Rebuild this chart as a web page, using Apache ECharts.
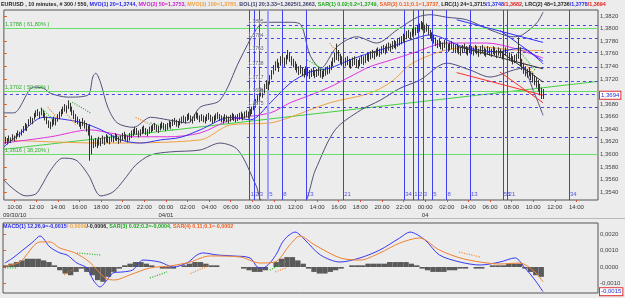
<!DOCTYPE html>
<html>
<head>
<meta charset="utf-8">
<script src="https://cdn.jsdelivr.net/npm/echarts@6/dist/echarts.min.js"></script>
<style>
  html, body { margin: 0; padding: 0; background: #ececec; }
  #chart { width: 625px; height: 298px; }
</style>
</head>
<body>
<div id="chart"></div>
<script>
// 10-minute EURUSD bars, in pips above 1.3 (3662 -> 1.3662)
const barHigh = [
  3628,3626,3630,3627,3632,3630,3634,3638,3636,3640, 3645,3650,3648,3656,3660,3658,3666,3670,3672,3668,
  3674,3670,3666,3660,3654,3652,3656,3660,3658,3664, 3668,3672,3676,3680,3678,3686,3682,3676,3670,3664,
  3660,3656,3652,3658,3654,3650,3646,3648,3630,3624, 3626,3624,3628,3626,3630,3628,3632,3630,3628,3632,
  3630,3634,3632,3628,3630,3634,3636,3632,3630,3634, 3638,3640,3644,3642,3638,3640,3644,3646,3642,3640,
  3644,3646,3648,3650,3647,3645,3649,3652,3650,3648, 3650,3654,3652,3656,3658,3655,3653,3657,3660,3662,
  3660,3664,3666,3662,3660,3664,3668,3666,3662,3664, 3662,3660,3664,3666,3663,3660,3662,3665,3667,3664,
  3662,3660,3664,3662,3660,3663,3666,3664,3662,3664, 3666,3668,3665,3668,3670,3668,3672,3676,3682,3688,
  3694,3700,3706,3704,3712,3718,3716,3726,3734,3742, 3748,3752,3746,3756,3760,3754,3758,3766,3762,3756,
  3752,3748,3744,3740,3742,3738,3736,3740,3738,3734, 3736,3738,3734,3736,3738,3735,3733,3736,3738,3740,
  3742,3748,3754,3762,3776,3766,3760,3756,3752,3754, 3756,3752,3750,3754,3756,3752,3750,3754,3758,3756,
  3758,3762,3760,3764,3766,3764,3768,3770,3768,3772, 3774,3772,3776,3778,3776,3780,3782,3780,3784,3786,
  3788,3792,3790,3796,3798,3795,3800,3804,3802,3806, 3808,3812,3810,3806,3808,3804,3798,3794,3790,3786,
  3782,3784,3780,3778,3782,3780,3776,3778,3780,3776, 3774,3776,3772,3770,3774,3776,3772,3770,3774,3772,
  3770,3774,3772,3768,3772,3774,3770,3768,3772,3770, 3768,3772,3770,3766,3770,3768,3764,3766,3770,3766,
  3762,3760,3756,3758,3760,3786,3770,3752,3744,3740, 3736,3738,3732,3730,3726,3722,3718,3712,3706,3704
];
const barLow = [
  3617,3616,3620,3618,3622,3621,3624,3628,3627,3630, 3634,3638,3637,3645,3649,3648,3655,3659,3661,3657,
  3662,3658,3654,3648,3642,3640,3644,3647,3646,3652, 3656,3660,3664,3668,3666,3672,3668,3662,3656,3650,
  3648,3644,3640,3645,3641,3636,3630,3590,3600,3610, 3612,3610,3614,3613,3617,3615,3619,3618,3616,3620,
  3619,3622,3621,3617,3619,3622,3624,3621,3619,3622, 3626,3629,3632,3631,3627,3629,3632,3634,3631,3629,
  3633,3635,3637,3639,3636,3634,3638,3641,3639,3637, 3639,3643,3641,3645,3647,3644,3642,3646,3649,3651,
  3649,3653,3655,3651,3649,3653,3657,3655,3651,3653, 3651,3649,3653,3655,3652,3649,3651,3654,3656,3653,
  3651,3649,3653,3651,3649,3652,3655,3653,3651,3653, 3655,3657,3654,3657,3659,3657,3661,3664,3670,3675,
  3680,3686,3692,3690,3697,3704,3702,3711,3719,3727, 3733,3738,3731,3741,3745,3739,3743,3751,3747,3741,
  3738,3734,3730,3726,3728,3724,3722,3726,3724,3720, 3723,3725,3721,3723,3725,3722,3720,3723,3725,3727,
  3729,3734,3740,3746,3750,3748,3744,3741,3738,3740, 3742,3738,3736,3740,3742,3738,3736,3740,3744,3742,
  3745,3749,3747,3751,3753,3751,3755,3757,3755,3759, 3761,3759,3763,3765,3763,3767,3769,3767,3771,3773,
  3775,3779,3777,3783,3785,3782,3787,3791,3789,3793, 3795,3799,3797,3793,3795,3790,3784,3780,3776,3772,
  3769,3771,3767,3765,3769,3767,3763,3765,3767,3763, 3761,3763,3759,3757,3761,3763,3759,3757,3761,3759,
  3757,3761,3759,3755,3759,3761,3757,3755,3759,3757, 3755,3759,3757,3753,3757,3755,3751,3753,3757,3753,
  3749,3747,3743,3745,3747,3752,3740,3734,3728,3724, 3722,3724,3718,3714,3710,3706,3700,3694,3688,3688
];
const lastClose = 1.3694;

// indicator lines: [bar index, pips]
const mvo20 = [[0,3612],[9.4,3634],[22,3659],[35,3655],[44,3650],[54,3639],[65,3623],[76,3618],[87,3623],[98,3627],[109,3639],[126,3659],[137,3655],[148,3682],[159,3713],[170,3731],[181,3737],[192,3750],[203,3761],[215,3771],[226,3782],[237,3790],[255,3771],[274,3763],[287,3769],[299.5,3744]];
const mvo50 = [[0,3618],[26,3628],[48,3639],[59,3634],[72,3628],[91,3628],[109,3634],[126,3655],[148,3666],[159,3682],[170,3694],[181,3707],[192,3723],[203,3739],[215,3750],[227,3761],[246,3777],[268,3777],[283,3769],[299.5,3753]];
const mvo100 = [[0,3623],[54,3618],[109,3623],[126,3647],[148,3650],[159,3659],[181,3682],[203,3697],[215,3715],[227,3745],[246,3766],[264,3771],[283,3766],[299.5,3765]];
const bolUpper = [[0,3666],[5.5,3666],[16.6,3707],[22,3705],[26,3697],[35.5,3691],[46.6,3694],[49.4,3723],[51,3729],[53.8,3713],[57.7,3675],[63,3650],[72,3643],[81.5,3659],[91,3655],[102,3650],[109,3675],[120,3686],[131,3750],[140,3798],[145,3810],[159,3810],[165,3806],[170,3758],[176,3737],[185,3771],[196,3787],[207,3777],[218.5,3798],[229.6,3818],[237,3822],[246,3818],[257,3814],[270,3798],[283,3787],[288,3790],[296,3809],[299.5,3826]];
const bolLower = [[0,3559],[12.2,3534],[17.7,3537],[20.5,3548],[26,3575],[32.7,3594],[40,3591],[47,3567],[53.8,3534],[60.5,3540],[66.6,3559],[73.2,3583],[81.5,3599],[92.6,3604],[109,3607],[120,3618],[130,3607],[140,3551],[145,3519],[165,3519],[173,3575],[184,3639],[198,3670],[209,3686],[220,3705],[231,3718],[246,3745],[259,3734],[270,3723],[283,3734],[288,3737],[294,3702],[299.5,3662]];
// parabolic SAR runs: [from index, pips, to index, pips]
const sar1 = [[20.5,3674,29,3651],[38,3683,48,3666],[81.5,3650,94,3639],[168.6,3750,181,3729],[286.7,3763,295,3734]];
const sar2 = [[24.4,3675,30.5,3655],[34.4,3666,40,3647],[73.2,3659,81.5,3647],[181,3777,187,3755],[286.7,3753,295,3726]];
// regression channels: [from index, to index, centre from/to, upper from/to, lower from/to]
const lrc1 = [275.5, 299.5, 3764, 3715, 3797, 3748, 3731, 3682];
const lrc2 = [251.5, 299.5, 3772, 3736, 3814, 3778, 3730, 3694];
const trendLine = [[0,3608],[330,3716]];

// fibonacci retracement levels
const fibLevels = [1.3788, 1.3702, 1.3616];
const fibNames = ['1,3788 ( 61,80% )', '1,3702 ( 50,00% )', '1,3616 ( 38,20% )'];
// dashed price levels (start index, price)
const dashLevels = [[135,1.3805],[135,1.3784],[135,1.3763],[135,1.3738],[135,1.3717],[0,1.3696],[135,1.3675],[135,1.3627]];
// fibonacci time zones
const fibTime1 = [136.4,139,141.6,146.8,154.6,167.7,188.5,222.4,277.1];
const fibTime2 = [227.4,230,232.7,237.9,245.8,258.9,279.8,313.9];
const fibNums1 = [1,2,3,5,8,13,21,34,55];
const fibNums2 = [1,2,3,5,8,13,21,34];

// MACD panel, in 1e-4
const macdLine = [[1,2.4],[5.5,5.5],[11,10.3],[16.6,15.2],[20.5,18.8],[26,12.1],[31.6,8.5],[35.5,7.3],[41,2.4],[46.6,-0.6],[50,-7.9],[53.8,-12.1],[57.7,-7.9],[61,-3.6],[66.6,-3],[72,-1.8],[77.6,4.2],[87,3],[94.3,0],[102,2.4],[107.6,7.3],[111,8.5],[118.7,7.3],[127.6,6.7],[137,5.5],[141,0],[144,-0.6],[148,2.4],[152,8.5],[154.7,14.5],[158,18.8],[162,21.2],[167.5,16.4],[176,7.3],[187,3],[198,5.5],[209,10.3],[220,17.6],[225.7,21.2],[234,16.4],[242,7.3],[253.5,3],[264.6,1.2],[275.6,3],[284,5.5],[289.5,-0.6],[295,-7.9],[299.5,-15]];
const signalLine = [[1,0.6],[9.4,3],[20.5,15.2],[26,15.2],[31.6,11.5],[40,8.5],[48,3],[56.6,-6.7],[62,-7.9],[70.4,-4.8],[81.5,-0.6],[92.6,0.6],[103.7,3],[114.8,6.7],[131.4,6.1],[142.5,2.4],[150.9,3],[159,13.3],[164.7,18.8],[173,13.3],[187,5.5],[198,4.2],[209,8.5],[220,14.5],[231,17.6],[242,10.3],[253.5,5.5],[264.6,3],[275.6,1.8],[286.7,2.4],[295,-3],[299.5,-9]];
// histogram, one value per 3 bars
const histogram = [1,2,3,4,5,5,5,4,3,1,-2,-4,-5,-3,-1,-3,-5,-8,-9,-6,-3,-1,1,2,3,3,2,1,0,-1,-1,-1,0,1,2,3,3,2,1,1,0,0,0,0,-1,-2,-3,-3,-2,0,3,5,6,6,4,2,-1,-3,-4,-4,-3,-2,-1,0,1,1,1,2,2,2,2,3,3,3,3,2,1,-1,-2,-3,-3,-3,-2,-2,-1,-1,0,-1,-1,0,1,1,1,2,2,2,-1,-3,-5,-6];
const sar3 = [[1,-0.6,8,-0.6],[41,8.5,54,7.3],[81.5,-6.7,91,-3],[148,-2,158,4]];
const sar4 = [[34,-4.8,40,-0.6],[104,-4,114,1],[151,-3,157,-0.6],[253,9,265,6]];
const macdLast = -0.0015;

const P = v => 1 + v / 10000;
const M = v => v / 10000;
const FONT = 'Liberation Sans, Arial, sans-serif';
const FS = 5.4;
const comma = (v, d) => v.toFixed(d).replace('.', ',');

const timeTicks = [];
for (let t = 6; t <= 318; t += 12) timeTicks.push(t);
const dateAt = { 6: '09/30/10', 90: '04/01', 234: '04' };
function timeLabel(v) {
  const h = (9 + Math.round(v) / 6) % 24;
  const s = (h < 10 ? '0' : '') + h + ':00';
  return dateAt[v] ? s + '\n' + dateAt[v] : s;
}

function line(points, color, conv, extra) {
  return Object.assign({
    type: 'line', data: points.map(p => [p[0], conv(p[1])]), symbol: 'none', smooth: 0.3,
    lineStyle: { color: color, width: 1 }, silent: true, animation: false, z: 3
  }, extra || {});
}
function segs(list, color, conv, extra) {
  const data = [];
  list.forEach(s => { data.push([s[0], conv(s[1])], [s[2], conv(s[3])], [null, null]); });
  return Object.assign({
    type: 'line', data: data, symbol: 'none', connectNulls: false,
    lineStyle: { color: color, width: 1.2, type: [1, 1.5] }, silent: true, animation: false, z: 4
  }, extra || {});
}
function channel(c, part, color) {
  return { type: 'line', data: [[c[0], P(c[2 + part * 2])], [c[1], P(c[3 + part * 2])]], symbol: 'none',
    lineStyle: { color: color, width: 1 }, silent: true, animation: false, z: 5 };
}
// boxed value on the right axis
function priceBox(value, text) {
  return [{ coord: [0, value], lineStyle: { color: 'transparent', width: 0 },
    label: { show: true, position: 'end', formatter: text, color: '#2030d0', fontSize: 6,
      backgroundColor: '#fff', borderColor: '#e03030', borderWidth: 1, padding: [1, 1, 0, 1], distance: 2 } },
    { coord: [330, value] }];
}

const chart = echarts.init(document.getElementById('chart'));

const rich = {
  k: { color: '#222', fontSize: FS, fontFamily: FONT },
  b: { color: '#2828e8', fontSize: FS, fontFamily: FONT },
  m: { color: '#d020d0', fontSize: FS, fontFamily: FONT },
  o: { color: '#f0a040', fontSize: FS, fontFamily: FONT },
  s: { color: '#404070', fontSize: FS, fontFamily: FONT },
  g: { color: '#20a820', fontSize: FS, fontFamily: FONT },
  r: { color: '#f06020', fontSize: FS, fontFamily: FONT },
  d: { color: '#e02020', fontSize: FS, fontFamily: FONT }
};

const option = {
  backgroundColor: '#ececec',
  animation: false,
  textStyle: { fontFamily: FONT },
  title: [
    { left: 1, top: 2, padding: 0,
      text: '{k|EURUSD , 10 minutes, # 300 / 550, }{b|MVO(1) 20=1,3744, }{m|MVO(2) 50=1,3753, }{o|MVO(3) 100=1,3765, }{s|BOL(1) 20;3.33=1,3625/1,3663, }{g|SAR(1) 0.02;0.2=1,3749, }{r|SAR(2) 0.11;0.1=1,3737, }{k|LRC(1) 24=1,3715}{b|/1,3748}{d|/1,3682}{k|, LRC(2) 48=1,3736}{b|/1,3778}{d|/1,3694}',
      textStyle: { rich: rich } },
    { left: 3, top: 224, padding: 0,
      text: '{b|MACD(1) 12,26,9=-0,0015}{o|/-0,0009}{k|/-0,0006, }{g|SAR(3) 0.02;0.2=-0,0004, }{r|SAR(4) 0.11;0.1=-0,0002}',
      textStyle: { rich: rich } }
  ],
  graphic: [
    { type: 'line', silent: true, shape: { x1: 0, y1: 218.5, x2: 625, y2: 218.5 }, style: { stroke: '#b8b8b8', lineWidth: 1 } }
  ],
  grid: [
    { left: 3, right: 27, top: 10, height: 190, show: true, borderColor: '#555', borderWidth: 1, backgroundColor: 'transparent' },
    { left: 3, right: 27, top: 223, height: 70, show: true, borderColor: '#555', borderWidth: 1, backgroundColor: 'transparent' }
  ],
  xAxis: [
    { type: 'value', gridIndex: 0, min: 0, max: 330, splitLine: { show: false },
      axisLine: { show: false },
      axisTick: { show: true, customValues: timeTicks, length: 2, lineStyle: { color: '#e05030' } },
      axisLabel: { customValues: timeTicks, fontSize: 6, color: '#333', margin: 3, lineHeight: 8, formatter: timeLabel } },
    { type: 'value', gridIndex: 1, min: 0, max: 330, splitLine: { show: false },
      axisLine: { show: false }, axisTick: { show: false }, axisLabel: { show: false } }
  ],
  yAxis: [
    { type: 'value', gridIndex: 0, position: 'right', min: 1.35275, max: 1.38295, splitLine: { show: false },
      axisLine: { show: false },
      axisTick: { show: true, customValues: [1.354,1.356,1.358,1.360,1.362,1.364,1.366,1.368,1.370,1.372,1.374,1.376,1.378,1.380,1.382], length: 3, lineStyle: { color: '#e06020' } },
      axisLabel: { customValues: [1.354,1.356,1.358,1.360,1.362,1.364,1.366,1.368,1.372,1.374,1.376,1.378,1.380,1.382], fontSize: 6, color: '#444', margin: 2,
        formatter: v => comma(v, 4) } },
    { type: 'value', gridIndex: 1, position: 'right', min: -0.00158, max: 0.00267, splitLine: { show: false },
      axisLine: { show: false },
      axisTick: { show: true, customValues: [-0.001, 0, 0.001, 0.002], length: 3, lineStyle: { color: '#e06020' } },
      axisLabel: { customValues: [-0.001, 0, 0.001, 0.002], fontSize: 6, color: '#444', margin: 2,
        formatter: v => comma(v, 4) } }
  ],
  series: [
    // price bars
    { type: 'custom', xAxisIndex: 0, yAxisIndex: 0, z: 6, silent: true, clip: true,
      data: barHigh.map((h, i) => [i + 0.5, P(barLow[i]), P(h)]),
      renderItem: (params, api) => {
        const a = api.coord([api.value(0), api.value(1)]);
        const b = api.coord([api.value(0), api.value(2)]);
        const x = Math.round(a[0]) + 0.5;
        return { type: 'line', shape: { x1: x, y1: a[1], x2: x, y2: b[1] }, style: { stroke: '#333', lineWidth: 1 } };
      } },
    // fibonacci levels, dashed levels, time zones, current price
    { type: 'line', xAxisIndex: 0, yAxisIndex: 0, data: [], silent: true,
      markLine: { silent: true, symbol: 'none', animation: false,
        data: fibLevels.map((v, i) => ({ yAxis: v, lineStyle: { color: '#66e066', width: 1, type: 'solid' },
          label: { show: true, position: 'insideStartTop', formatter: fibNames[i], color: '#30b030', fontSize: 5.6, distance: [1, 1] } }))
          .concat(dashLevels.map(d => [{ coord: [d[0], d[1]], lineStyle: { color: '#4848e8', width: 1, type: [3, 3] },
            label: { show: false } }, { coord: [330, d[1]] }]))
          .concat(fibTime1.concat(fibTime2).map((x, i) => ({ xAxis: x,
            lineStyle: { color: i === 3 ? '#a0a0ff' : '#4040f0', width: i === 3 ? 2 : 1, type: 'solid' }, label: { show: false } })))
          .concat([priceBox(lastClose, comma(lastClose, 4))])
      } },
    { type: 'scatter', xAxisIndex: 0, yAxisIndex: 0, symbolSize: 0, silent: true, z: 7,
      data: fibTime1.map((x, i) => [x, 1.3537, fibNums1[i]]).concat(fibTime2.map((x, i) => [x, 1.3537, fibNums2[i]])),
      label: { show: true, position: 'right', distance: 1, color: '#3030e0', fontSize: 6, formatter: p => p.value[2] } },
    { type: 'scatter', xAxisIndex: 0, yAxisIndex: 0, symbolSize: 0, silent: true, z: 7,
      data: dashLevels.slice(0, 7).map(d => [140, d[1], d[1]]),
      label: { show: true, position: 'top', distance: 1, color: '#303050', fontSize: 5, backgroundColor: 'rgba(255,255,255,0.6)',
        formatter: p => p.value[2].toFixed(4) } },
    line(trendLine, '#40d040', P),
    line(mvo100, '#f0a040', P),
    line(mvo50, '#e030e0', P),
    line(mvo20, '#3030f0', P),
    line(bolUpper, '#505078', P),
    line(bolLower, '#505078', P),
    segs(sar1, '#20b020', P),
    segs(sar2, '#f08020', P),
    channel(lrc2, 0, '#303030'), channel(lrc2, 1, '#3030ff'), channel(lrc2, 2, '#ff3030'),
    channel(lrc1, 0, '#303030'), channel(lrc1, 1, '#3030ff'), channel(lrc1, 2, '#ff3030'),
    // MACD panel
    { type: 'bar', xAxisIndex: 1, yAxisIndex: 1, silent: true, barWidth: 5.4,
      data: histogram.map((v, i) => [i * 3 + 1.5, M(v)]), itemStyle: { color: '#5a5a5a' } },
    line(macdLine, '#3838f0', M, { xAxisIndex: 1, yAxisIndex: 1 }),
    line(signalLine, '#f08030', M, { xAxisIndex: 1, yAxisIndex: 1 }),
    segs(sar3, '#20b020', M, { xAxisIndex: 1, yAxisIndex: 1 }),
    segs(sar4, '#f08020', M, { xAxisIndex: 1, yAxisIndex: 1 }),
    { type: 'line', xAxisIndex: 1, yAxisIndex: 1, data: [], silent: true,
      markLine: { silent: true, symbol: 'none', animation: false, data: [priceBox(macdLast, comma(macdLast, 4))] } }
  ]
};
chart.setOption(option);
</script>
</body>
</html>
